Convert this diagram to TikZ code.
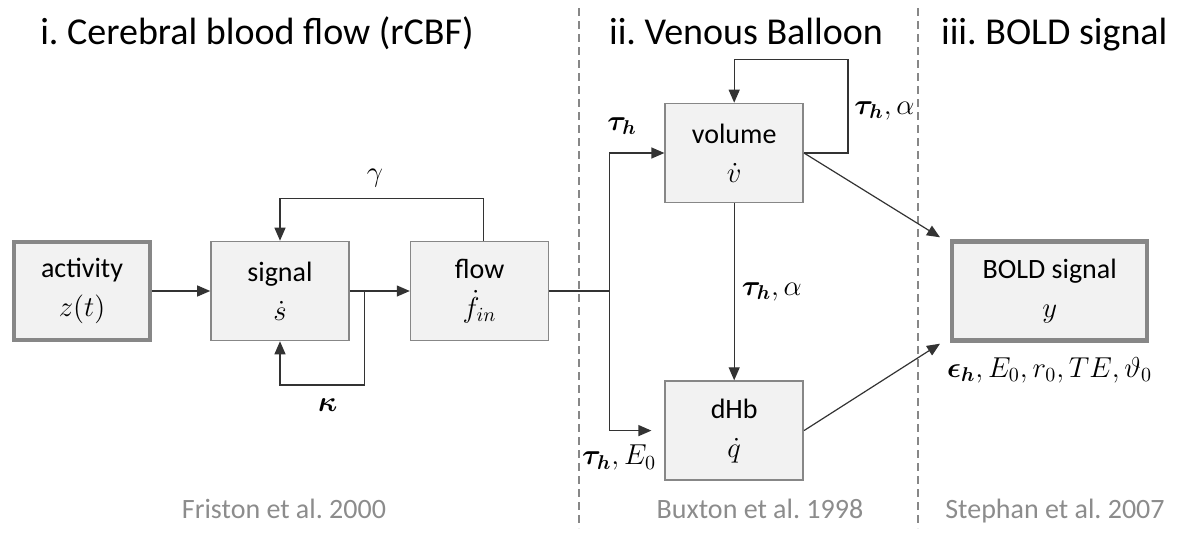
\documentclass[tikz,border=0pt]{standalone}
\usepackage{amsmath,amssymb}
\usepackage{fontspec}
\setmainfont{Carlito}
\usepackage{xcolor}
\usepackage{tikz}
\usetikzlibrary{positioning,arrows.meta,calc}
\definecolor{boxfill}{HTML}{F2F2F2}
\definecolor{boxline}{HTML}{878787}
\definecolor{reftext}{HTML}{8C8C8C}
\frenchspacing

\begin{document}
\begin{tikzpicture}[
    x=0.5pt, y=-0.5pt,
    node distance=29pt,
    box/.style={draw=boxline, fill=boxfill, line width=0.8pt, minimum width=69pt,
                minimum height=49.5pt, align=center, font=\fontsize{14}{19.5}\selectfont},
    thickbox/.style={box, line width=2.2pt},
    arr/.style={-{Triangle[length=6.5pt,width=5.5pt]}, line width=0.6pt, draw=black!80},
    wire/.style={line width=0.6pt, draw=black!80},
    lbl/.style={font=\fontsize{14}{17}\selectfont, inner sep=1pt},
    heading/.style={font=\fontsize{19}{22}\selectfont, anchor=base},
    reftxt/.style={font=\fontsize{14}{17}\selectfont, text=reftext, anchor=base},
    divider/.style={draw=boxline, line width=0.6pt, dash pattern=on 4pt off 2.5pt},
  ]
  \useasboundingbox (0,0) rectangle (1180,536);

  % Section headings
  \node[heading]                   (ti)   at (257,44) {i. Cerebral blood flow (rCBF)};
  \node[heading, anchor=base west] (tii)  at (602,44) {ii. Venous Balloon};
  \node[heading, anchor=base west] (tiii) at (934,44) {iii. BOLD signal};

  % Dashed separators
  \draw[divider] (579,8) -- (579,528);
  \draw[divider] (918,8) -- (918,528);

  % Neuronal input and rCBF
  \node[thickbox, minimum width=68pt, minimum height=49pt] (act) at (82,291) {activity\\$z(t)$};
  \node[box, right=29pt of act]  (sig)  {signal\\$\dot{s}$};
  \node[box, right=30pt of sig]  (flow) {flow\\$\dot{f}_{in}$};
  % Balloon model
  \node[box, right=57.5pt of flow, yshift=69pt] (vol) {volume\\$\dot{v}$};
  \node[box, below=88.5pt of vol]               (dhb) {dHb\\$\dot{q}$};
  % Observation
  \node[thickbox, minimum width=97.5pt, right=73pt of vol, yshift=-69pt] (bold) {BOLD signal\\$y$};
  \node[lbl, below=6pt of bold] (bpar) {$\boldsymbol{\epsilon_h}, E_0, r_0, TE, \vartheta_0$};

  % rCBF connections
  \draw[arr] (act) -- (sig);
  \draw[arr] (sig) -- (flow);
  \coordinate[right=7.5pt of sig.east] (kfork);
  \draw[arr] (kfork) -- ++(0,-47pt) -| (sig.south);
  \node[lbl] (kap) at ($(kfork)+(-18.5pt,-57pt)$) {$\boldsymbol{\kappa}$};
  \draw[arr] ($(flow.north)+(2pt,0)$) -- ++(0,21pt) -| (sig.north);
  \node[lbl] (gam) at (375,178) {$\gamma$};

  % into the balloon
  \coordinate[right=30pt of flow.east] (bfork);
  \draw[wire] (flow) -- (bfork);
  \draw[arr] (bfork) |- (vol.west);
  \draw[arr, shorten >=6.5pt] (bfork) |- (dhb.west);
  \node[lbl] (tin) at (622,126) {$\boldsymbol{\tau_h}$};
  \node[lbl, anchor=north east] (tqin) at ($(dhb.west)+(-3pt,-6pt)$) {$\boldsymbol{\tau_h}, E_0$};

  % volume self loop
  \draw[arr] (vol.east) -- ++(22pt,0) |- ($(vol.north)+(0,21.5pt)$) -- (vol.north);
  \node[lbl, anchor=west] (tvv) at ($(vol.east)+(24pt,21pt)$) {$\boldsymbol{\tau_h}, \alpha$};
  \draw[arr] (vol) -- node[lbl, right=2.5pt] (tvq) {$\boldsymbol{\tau_h}, \alpha$} (dhb);

  % to the BOLD signal
  \draw[arr] (vol.east) -- ($(bold.north west)+(-5pt,1pt)$);
  \draw[arr] (dhb.east) -- ($(bold.south west)+(-5pt,-0.5pt)$);

  % References
  \node[reftxt] (rfri) at (284,518)  {Friston et al. 2000};
  \node[reftxt] (rbux) at (760,518)  {Buxton et al. 1998};
  \node[reftxt] (rste) at (1055,518) {Stephan et al. 2007};
\end{tikzpicture}
\end{document}
